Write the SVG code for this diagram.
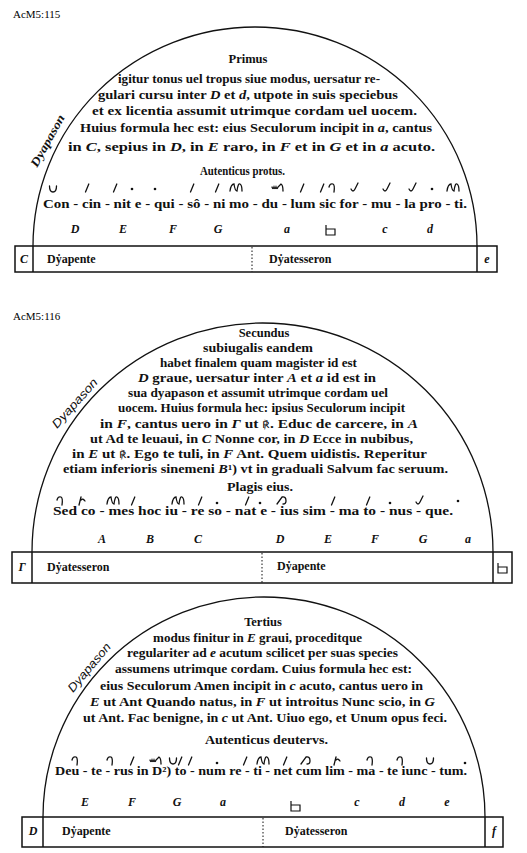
<svg xmlns="http://www.w3.org/2000/svg" xmlns:xlink="http://www.w3.org/1999/xlink" width="527" height="853" viewBox="0 0 527 853">
<style>
.t{font-family:"Liberation Serif",serif;font-weight:bold;font-size:12px;fill:#111}
.i{font-style:italic}
.h{font-size:12.5px}
.r{font-family:"DejaVu Serif",serif;font-size:9.5px;font-weight:normal}
.id{font-family:"Liberation Serif",serif;font-size:11px;fill:#000}
.ls{font-family:"Liberation Sans",sans-serif;font-style:italic;font-size:12px;fill:#111}
.arc{fill:none;stroke:#111;stroke-width:1.3}
.box{fill:none;stroke:#111;stroke-width:1.5}
.dv{stroke:#111;stroke-width:1;stroke-dasharray:1.5 2}
.nm{fill:none;stroke:#111;stroke-width:1.3;stroke-linecap:round}
.pt{fill:#111}
.sb{fill:none;stroke:#111;stroke-width:1.2}
</style>
<defs>
<path id="v" class="nm" d="M-1.5,4 L1.8,-4"/>
<circle id="p" class="pt" r="1.3"/>
<path id="cup" class="nm" d="M-3.5,-3 Q-3.5,3 0,3 Q3.5,3 3.5,-3"/>
<path id="cl" class="nm" d="M-3,-1 Q-2,-5 1,-4 Q3,-3 2,4"/>
<path id="pes" class="nm" d="M-4,1 Q-2,5 0,1 L3,-5"/>
<path id="torc" class="nm" d="M-6,3 Q-5,-4 -2,-4 Q-1,3 1,3 Q2,-5 4,-4 Q6,-3 6,3"/>
<path id="quil" class="nm" d="M-6,-1 Q-5,2 -4,-1 Q-3,2 -2,-1 Q-1,2 0,-1 L3,-4 Q5,-3 5,3"/>
<path id="por" class="nm" d="M-6,3 L-1,-4 Q3,-5 3,0 Q3,3 0,3"/>
<path id="ped" class="nm" d="M-3,4 L-1,-4 M-1,-1 Q1,-3 3,0"/>
<path id="sqb" class="sb" d="M0,-10 V0 H9 V-6 H0"/>
</defs>

<!-- Panel 1 -->
<g id="panel1">
<text class="id" x="13" y="18">AcM5:115</text>
<path class="arc" d="M33,246 A222,219 0 0 1 477,246"/>
<text class="t i" transform="translate(37,168) rotate(-61)" textLength="58" lengthAdjust="spacingAndGlyphs">Dyapason</text>
<g id="text1">
<text class="t h" x="248" y="63" text-anchor="middle">Primus</text>
<text class="t" x="118" y="83" textLength="262" lengthAdjust="spacingAndGlyphs">igitur tonus uel tropus siue modus, uersatur re-</text>
<text class="t" x="98" y="99" textLength="300" lengthAdjust="spacingAndGlyphs">gulari cursu inter <tspan class="i">D</tspan> et <tspan class="i">d</tspan>, utpote in suis speciebus</text>
<text class="t" x="92" y="115" textLength="325" lengthAdjust="spacingAndGlyphs">et ex licentia assumit utrimque cordam uel uocem.</text>
<text class="t" x="80" y="132" textLength="352" lengthAdjust="spacingAndGlyphs">Huius formula hec est: eius Seculorum incipit in <tspan class="i">a</tspan>, cantus</text>
<text class="t" x="68" y="151" textLength="367" lengthAdjust="spacingAndGlyphs">in <tspan class="i">C</tspan>, sepius in <tspan class="i">D</tspan>, in <tspan class="i">E</tspan> raro, in <tspan class="i">F</tspan> et in <tspan class="i">G</tspan> et in <tspan class="i">a</tspan> acuto.</text>
<text class="t" x="200" y="175" textLength="85" lengthAdjust="spacingAndGlyphs">Autenticus protus.</text>
<text class="t" x="43" y="208" textLength="424" lengthAdjust="spacingAndGlyphs">Con - cin - nit e - qui - sô - ni mo - du - lum sic for - mu - la pro - ti.</text>
</g>
<g id="neumes1">
<use href="#cup" x="53" y="189"/><use href="#v" x="87" y="188"/><use href="#v" x="115" y="188"/><use href="#p" x="132" y="189"/>
<use href="#p" x="155" y="189"/><use href="#v" x="192" y="188"/><use href="#v" x="217" y="188"/><use href="#torc" x="236" y="188"/>
<use href="#quil" x="278" y="188"/><use href="#v" x="302" y="188"/><use href="#v" x="322" y="188"/><use href="#cl" x="332" y="188"/>
<use href="#pes" x="355" y="188"/><use href="#pes" x="387" y="188"/><use href="#pes" x="413" y="188"/><use href="#p" x="432" y="189"/><use href="#torc" x="453" y="188"/>
</g>
<g id="letters1" class="t i">
<text x="75" y="233" text-anchor="middle">D</text><text x="123" y="233" text-anchor="middle">E</text>
<text x="173" y="233" text-anchor="middle">F</text><text x="218" y="233" text-anchor="middle">G</text>
<text x="287" y="233" text-anchor="middle">a</text><text x="385" y="233" text-anchor="middle">c</text>
<text x="430" y="233" text-anchor="middle">d</text>
</g>
<use href="#sqb" x="326" y="235"/>
<g id="box1">
<rect class="box" x="15" y="246" width="482" height="26"/>
<line class="box" x1="33" y1="246" x2="33" y2="272"/>
<line class="box" x1="477" y1="246" x2="477" y2="272"/>
<line class="dv" x1="252" y1="247" x2="252" y2="272"/>
<text class="t i" x="24" y="263" text-anchor="middle">C</text>
<text class="t" x="47" y="263">Dẏapente</text>
<text class="t" x="269" y="263">Dẏatesseron</text>
<text class="t i" x="487" y="263" text-anchor="middle">e</text>
</g>
</g>

<!-- Panel 2 -->
<g id="panel2">
<text class="id" x="13" y="320">AcM5:116</text>
<path class="arc" d="M32,552 A230.5,229 0 0 1 493,552"/>
<text class="ls" transform="translate(57,429) rotate(-48)" textLength="62" lengthAdjust="spacingAndGlyphs">Dyapason</text>
<g id="text2">
<text class="t h" x="264" y="337" text-anchor="middle">Secundus</text>
<text class="t" x="203" y="352" textLength="110" lengthAdjust="spacingAndGlyphs">subiugalis  eandem</text>
<text class="t" x="160" y="367" textLength="197" lengthAdjust="spacingAndGlyphs">habet finalem quam magister id est</text>
<text class="t" x="138" y="382" textLength="238" lengthAdjust="spacingAndGlyphs"><tspan class="i">D</tspan> graue, uersatur inter <tspan class="i">A</tspan> et <tspan class="i">a</tspan> id est in</text>
<text class="t" x="128" y="397" textLength="260" lengthAdjust="spacingAndGlyphs">sua dyapason et assumit utrimque cordam uel</text>
<text class="t" x="118" y="412" textLength="287" lengthAdjust="spacingAndGlyphs">uocem. Huius formula hec: ipsius Seculorum incipit</text>
<text class="t" x="100" y="428" textLength="318" lengthAdjust="spacingAndGlyphs">in <tspan class="i">F</tspan>, cantus uero in <tspan class="i">Γ</tspan> ut <tspan class="r">℟</tspan>.  Educ de carcere, in <tspan class="i">A</tspan></text>
<text class="t" x="90" y="443" textLength="323" lengthAdjust="spacingAndGlyphs">ut Ad te leuaui, in <tspan class="i">C</tspan> Nonne cor, in <tspan class="i">D</tspan> Ecce in nubibus,</text>
<text class="t" x="72" y="458" textLength="355" lengthAdjust="spacingAndGlyphs">in <tspan class="i">E</tspan> ut <tspan class="r">℟</tspan>. Ego te tuli, in <tspan class="i">F</tspan> Ant. Quem uidistis. Reperitur</text>
<text class="t" x="63" y="473" textLength="385" lengthAdjust="spacingAndGlyphs">etiam inferioris sinemeni <tspan class="i">B</tspan>¹) vt in graduali Salvum fac seruum.</text>
<text class="t" x="227" y="491" textLength="66" lengthAdjust="spacingAndGlyphs">Plagis eius.</text>
<text class="t" x="53" y="515" textLength="400" lengthAdjust="spacingAndGlyphs">Sed co - mes hoc iu - re so - nat e - ius sim - ma to - nus - que.</text>
</g>
<g id="neumes2">
<use href="#cl" x="60" y="501"/><use href="#ped" x="82" y="501"/><use href="#torc" x="113" y="501"/><use href="#v" x="133" y="501"/>
<use href="#torc" x="178" y="501"/><use href="#v" x="200" y="501"/><use href="#p" x="217" y="503"/><use href="#v" x="247" y="501"/>
<use href="#p" x="260" y="503"/><use href="#por" x="283" y="501"/><use href="#v" x="333" y="501"/><use href="#v" x="368" y="501"/>
<use href="#p" x="390" y="503"/><use href="#pes" x="420" y="501"/><use href="#p" x="458" y="501"/>
</g>
<g id="letters2" class="t i">
<text x="102" y="543" text-anchor="middle">A</text><text x="150" y="543" text-anchor="middle">B</text>
<text x="198" y="543" text-anchor="middle">C</text><text x="280" y="543" text-anchor="middle">D</text>
<text x="328" y="543" text-anchor="middle">E</text><text x="375" y="543" text-anchor="middle">F</text>
<text x="423" y="543" text-anchor="middle">G</text><text x="468" y="543" text-anchor="middle">a</text>
</g>
<g id="box2">
<rect class="box" x="12" y="552" width="500" height="31"/>
<line class="box" x1="32" y1="552" x2="32" y2="583"/>
<line class="box" x1="493" y1="552" x2="493" y2="583"/>
<line class="dv" x1="262" y1="553" x2="262" y2="583"/>
<text class="t i" x="22" y="571" text-anchor="middle">Γ</text>
<text class="t" x="47" y="571">Dẏatesseron</text>
<text class="t" x="277" y="570">Dẏapente</text>
<use href="#sqb" x="498" y="573"/>
</g>
</g>

<!-- Panel 3 -->
<g id="panel3">
<path class="arc" d="M43,817 A221,220 0 0 1 485,817"/>
<text class="ls" transform="translate(73,693) rotate(-50)" textLength="60" lengthAdjust="spacingAndGlyphs">Dyapason</text>
<g id="text3">
<text class="t h" x="263" y="626" text-anchor="middle">Tertius</text>
<text class="t" x="153" y="642" textLength="209" lengthAdjust="spacingAndGlyphs">modus finitur in <tspan class="i">E</tspan> graui, proceditque</text>
<text class="t" x="127" y="657" textLength="271" lengthAdjust="spacingAndGlyphs">regulariter ad <tspan class="i">e</tspan> acutum scilicet per suas species</text>
<text class="t" x="115" y="673" textLength="297" lengthAdjust="spacingAndGlyphs">assumens utrimque cordam. Cuius formula hec est:</text>
<text class="t" x="100" y="690" textLength="323" lengthAdjust="spacingAndGlyphs">eius Seculorum Amen incipit in <tspan class="i">c</tspan> acuto, cantus uero in</text>
<text class="t" x="90" y="706" textLength="345" lengthAdjust="spacingAndGlyphs"><tspan class="i">E</tspan> ut Ant  Quando natus, in <tspan class="i">F</tspan> ut introitus Nunc scio, in <tspan class="i">G</tspan></text>
<text class="t" x="83" y="722" textLength="364" lengthAdjust="spacingAndGlyphs">ut Ant. Fac benigne, in <tspan class="i">c</tspan> ut Ant. Uiuo ego, et Unum opus feci.</text>
<text class="t" x="205" y="744" textLength="123" lengthAdjust="spacingAndGlyphs">Autenticus deutervs.</text>
<text class="t" x="55" y="775" textLength="412" lengthAdjust="spacingAndGlyphs">Deu - te - rus in D²) to - num re - ti - net cum lim - ma - te iunc - tum.</text>
</g>
<g id="neumes3">
<use href="#cl" x="75" y="761"/><use href="#cl" x="110" y="761"/><use href="#v" x="132" y="761"/><use href="#quil" x="156" y="761"/>
<use href="#cup" x="173" y="761"/><use href="#v" x="180" y="761"/><use href="#v" x="190" y="761"/><use href="#p" x="217" y="763"/>
<use href="#v" x="245" y="761"/><use href="#torc" x="263" y="761"/><use href="#v" x="285" y="761"/><use href="#por" x="307" y="761"/>
<use href="#ped" x="337" y="761"/><use href="#cl" x="370" y="761"/><use href="#cl" x="400" y="761"/><use href="#cup" x="430" y="761"/><use href="#p" x="465" y="763"/>
</g>
<g id="letters3" class="t i">
<text x="85" y="806" text-anchor="middle">E</text><text x="132" y="806" text-anchor="middle">F</text>
<text x="177" y="806" text-anchor="middle">G</text><text x="223" y="806" text-anchor="middle">a</text>
<text x="357" y="806" text-anchor="middle">c</text><text x="402" y="806" text-anchor="middle">d</text>
<text x="447" y="806" text-anchor="middle">e</text>
</g>
<use href="#sqb" x="291" y="811"/>
<g id="box3">
<rect class="box" x="22" y="817" width="481" height="30"/>
<line class="box" x1="43" y1="817" x2="43" y2="847"/>
<line class="box" x1="485" y1="817" x2="485" y2="847"/>
<line class="dv" x1="263" y1="818" x2="263" y2="847"/>
<text class="t i" x="33" y="835" text-anchor="middle">D</text>
<text class="t" x="62" y="835">Dẏapente</text>
<text class="t" x="285" y="835">Dẏatesseron</text>
<text class="t i" x="494" y="835" text-anchor="middle">f</text>
</g>
</g>
</svg>
